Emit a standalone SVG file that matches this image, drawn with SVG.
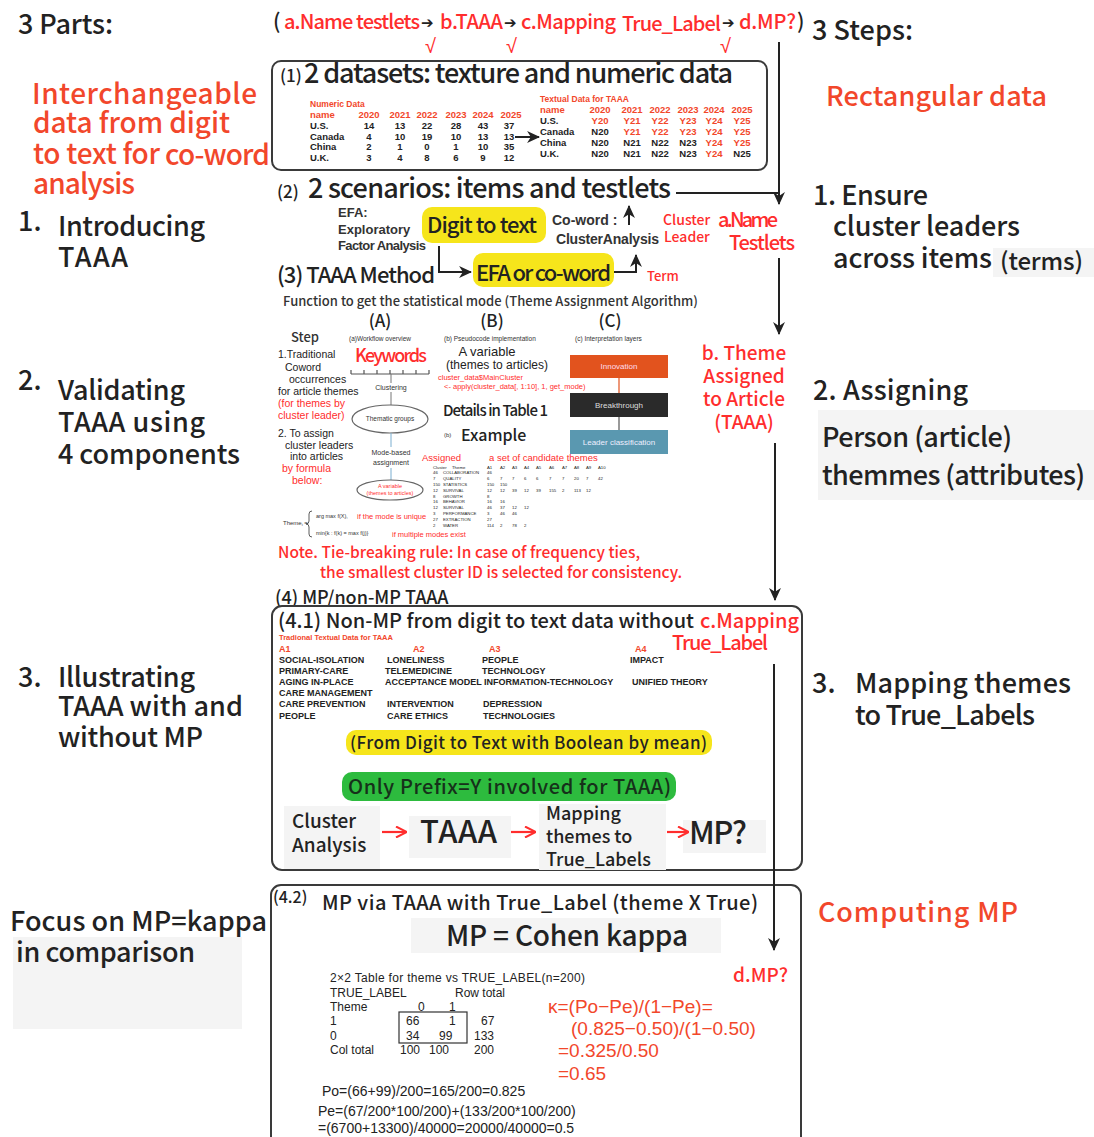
<svg xmlns="http://www.w3.org/2000/svg" width="1094" height="1137" viewBox="0 0 1094 1137">
<defs>
<style>
text{font-family:"Noto Sans CJK TC","Noto Sans",sans-serif;fill:#222;font-weight:500}
.L{font-family:"Liberation Sans",Arial,sans-serif;font-weight:normal}
.LB{font-family:"Liberation Sans",Arial,sans-serif;font-weight:bold}
.r{fill:#ff2d2d}
.o{fill:#f2472b}
.k{fill:#222}
.g{fill:#333}
.big{font-size:27px}
.bg{fill:#f4f4f4}
.box{fill:#fff;stroke:#3a3a3a;stroke-width:2}
.ln{fill:none;stroke:#222;stroke-width:2}
.lnr{fill:none;stroke:#ff2d2d;stroke-width:2.2}
.tb{font-size:9.5px}
.tw{font-size:9px;fill:#333}
.ti{font-size:4.3px;fill:#333}
.arr{font-family:"DejaVu Sans",sans-serif;font-size:15px;font-weight:bold;fill:#222}
.c{text-anchor:middle}
</style>
<marker id="ah" viewBox="0 0 12 12" refX="11" refY="6" markerWidth="13" markerHeight="13" markerUnits="userSpaceOnUse" orient="auto"><path d="M0,0.5 L12,6 L0,11.5 L3.5,6 z" fill="#222"/></marker>
<marker id="ahr" viewBox="0 0 12 12" refX="11" refY="6" markerWidth="12" markerHeight="12" markerUnits="userSpaceOnUse" orient="auto"><path d="M1,0.5 L12,6 L1,11.5" fill="none" stroke="#ff2d2d" stroke-width="2"/></marker>
</defs>
<rect width="1094" height="1137" fill="#fff"/>

<!-- left column -->
<g id="parts-title"><text x="18" y="34" class="big" textLength="95">3 Parts:</text></g>
<g id="parts-note">
<text x="32" y="104" class="o" font-size="28" textLength="225">Interchangeable</text>
<text x="33" y="133" class="o" font-size="28" textLength="197">data from digit</text>
<text x="33" y="164" class="o" font-size="28" textLength="127">to text for</text>
<text x="165" y="165" class="o" font-size="28" textLength="105">co-word</text>
<text x="33" y="194" class="o" font-size="28" textLength="102">analysis</text>
</g>
<g id="part1">
<text x="18" y="231" class="big">1.</text>
<text x="58" y="236" class="big" textLength="147">Introducing</text>
<text x="58" y="267" class="big" textLength="70">TAAA</text>
</g>
<g id="part2">
<text x="18" y="390" class="big">2.</text>
<text x="58" y="400" class="big" textLength="127">Validating</text>
<text x="58" y="432" class="big" textLength="147">TAAA using</text>
<text x="58" y="464" class="big" textLength="182">4 components</text>
</g>
<g id="part3">
<text x="18" y="687" class="big">3.</text>
<text x="58" y="687" class="big" textLength="137">Illustrating</text>
<text x="58" y="716" class="big" textLength="185">TAAA with and</text>
<text x="58" y="747" class="big" textLength="145">without MP</text>
</g>
<g id="focus">
<rect x="13" y="937" width="229" height="92" class="bg"/>
<text x="10" y="931" class="big" textLength="257">Focus on MP=kappa</text>
<text x="16" y="962" class="big" textLength="179">in comparison</text>
</g>

<!-- right column -->
<g id="steps-title"><text x="812" y="40" class="big" textLength="101">3 Steps:</text></g>
<g id="rect-data"><text x="826" y="106" class="o" font-size="27" textLength="221">Rectangular data</text></g>
<g id="step1">
<rect x="993" y="248" width="101" height="29" class="bg"/>
<text x="813" y="205" class="big" textLength="115">1. Ensure</text>
<text x="833" y="236" class="big" textLength="187">cluster leaders</text>
<text x="833" y="268" class="big" textLength="159">across items</text>
<text x="1000" y="270" font-size="24" textLength="83">(terms)</text>
</g>
<g id="step2">
<rect x="818" y="410" width="276" height="90" class="bg"/>
<text x="813" y="400" class="big" textLength="155">2. Assigning</text>
<text x="822" y="447" class="big" textLength="190">Person (article)</text>
<text x="822" y="485" class="big" textLength="263">themmes (attributes)</text>
</g>
<g id="step3">
<text x="812" y="693" class="big">3.</text>
<text x="855" y="693" class="big" textLength="216">Mapping themes</text>
<text x="855" y="725" class="big" textLength="180">to True_Labels</text>
</g>
<g id="computing"><text x="818" y="922" class="o" font-size="27" textLength="200">Computing MP</text></g>

<!-- header -->
<g id="header" font-size="20">
<text x="273" y="29" class="k" font-size="21">(</text>
<text x="284" y="29" class="r" textLength="136">a.Name testlets</text>
<text x="421" y="28" class="arr">➔</text>
<text x="440" y="29" class="r" textLength="63">b.TAAA</text>
<text x="504" y="28" class="arr">➔</text>
<text x="521" y="29" class="r" textLength="95">c.Mapping</text>
<text x="622" y="31" class="r" textLength="99">True_Label</text>
<text x="722" y="28" class="arr">➔</text>
<text x="739" y="29" class="r" textLength="57">d.MP?</text>
<text x="797" y="29" class="k" font-size="21">)</text>
<text x="425" y="53" class="r L" font-size="20">√</text>
<text x="506" y="53" class="r L" font-size="20">√</text>
<text x="720" y="53" class="r L" font-size="20">√</text>
</g>

<!-- box 1 -->
<g id="box1">
<rect x="272" y="61" width="495" height="109" rx="9" class="box"/>
<text x="280" y="82" font-size="17">(1)</text>
<text x="304" y="83" class="big" textLength="429">2 datasets: texture and numeric data</text>
<g class="tb LB">
<text x="310" y="107" class="o LB" font-size="8.5">Numeric Data</text>
<text x="310" y="118" class="o LB">name</text>
<text y="118" class="o LB c"><tspan x="369">2020</tspan><tspan x="400">2021</tspan><tspan x="427">2022</tspan><tspan x="456">2023</tspan><tspan x="483">2024</tspan><tspan x="511">2025</tspan></text>
<text x="310" y="129" class="LB">U.S.</text><text x="310" y="139.5" class="LB">Canada</text><text x="310" y="150" class="LB">China</text><text x="310" y="160.5" class="LB">U.K.</text>
<text y="129" class="LB c"><tspan x="369">14</tspan><tspan x="400">13</tspan><tspan x="427">22</tspan><tspan x="456">28</tspan><tspan x="483">43</tspan><tspan x="509">37</tspan></text>
<text y="139.5" class="LB c"><tspan x="369">4</tspan><tspan x="400">10</tspan><tspan x="427">19</tspan><tspan x="456">10</tspan><tspan x="483">13</tspan><tspan x="509">13</tspan></text>
<text y="150" class="LB c"><tspan x="369">2</tspan><tspan x="400">1</tspan><tspan x="427">0</tspan><tspan x="456">1</tspan><tspan x="483">10</tspan><tspan x="509">35</tspan></text>
<text y="160.5" class="LB c"><tspan x="369">3</tspan><tspan x="400">4</tspan><tspan x="427">8</tspan><tspan x="456">6</tspan><tspan x="483">9</tspan><tspan x="509">12</tspan></text>
<text x="540" y="102" class="o LB" font-size="8.5">Textual Data for TAAA</text>
<text x="540" y="112.5" class="o LB">name</text>
<text y="112.5" class="o LB c"><tspan x="600">2020</tspan><tspan x="632">2021</tspan><tspan x="660">2022</tspan><tspan x="688">2023</tspan><tspan x="714">2024</tspan><tspan x="742">2025</tspan></text>
<text x="540" y="123.5" class="LB">U.S.</text><text x="540" y="134.5" class="LB">Canada</text><text x="540" y="145.5" class="LB">China</text><text x="540" y="157" class="LB">U.K.</text>
<text y="123.5" class="LB c o"><tspan x="600">Y20</tspan><tspan x="632">Y21</tspan><tspan x="660">Y22</tspan><tspan x="688">Y23</tspan><tspan x="714">Y24</tspan><tspan x="742">Y25</tspan></text>
<text y="134.5" class="LB c"><tspan x="600">N20</tspan><tspan x="632" class="o">Y21</tspan><tspan x="660" class="o">Y22</tspan><tspan x="688" class="o">Y23</tspan><tspan x="714" class="o">Y24</tspan><tspan x="742" class="o">Y25</tspan></text>
<text y="145.5" class="LB c"><tspan x="600">N20</tspan><tspan x="632">N21</tspan><tspan x="660">N22</tspan><tspan x="688">N23</tspan><tspan x="714" class="o">Y24</tspan><tspan x="742" class="o">Y25</tspan></text>
<text y="157" class="LB c"><tspan x="600">N20</tspan><tspan x="632">N21</tspan><tspan x="660">N22</tspan><tspan x="688">N23</tspan><tspan x="714" class="o">Y24</tspan><tspan x="742">N25</tspan></text>
</g>
</g>

<!-- scenarios -->
<g id="scenarios">
<text x="277" y="198" font-size="17">(2)</text>
<text x="308" y="198" class="big" textLength="363">2 scenarios: items and testlets</text>
</g>
<g id="efa-label" font-size="13">
<text x="338" y="217" class="g LB">EFA:</text>
<text x="338" y="234" class="g LB">Exploratory</text>
<text x="338" y="250" class="g LB" textLength="88">Factor Analysis</text>
</g>
<g id="digit-to-text">
<rect x="422" y="207" width="124" height="36" rx="10" fill="#f6e51b"/>
<text x="427" y="233" font-size="22" textLength="110">Digit to text</text>
</g>
<g id="coword-label" font-size="14">
<text x="552" y="225" class="g LB">Co-word :</text>
<text x="556" y="244" class="g LB" textLength="103">ClusterAnalysis</text>
</g>
<g id="cluster-leader" font-size="14">
<text x="663" y="225" class="r">Cluster</text>
<text x="664" y="242" class="r">Leader</text>
</g>
<g id="step-a">
<text x="718" y="227" class="r" font-size="20" textLength="60">a.Name</text>
<text x="729" y="250" class="r" font-size="20" textLength="66">Testlets</text>
</g>
<g id="taaa-method"><text x="277" y="283" font-size="22" textLength="158">(3) TAAA Method</text></g>
<g id="efa-coword">
<rect x="473" y="253" width="141" height="34" rx="10" fill="#f6e51b"/>
<text x="476" y="281" font-size="22" textLength="135">EFA or co-word</text>
</g>
<g id="term"><text x="647" y="281" class="r" font-size="13">Term</text></g>

<!-- function -->
<g id="function">
<text x="283" y="306" font-size="13" font-weight="bold" class="g" textLength="415">Function to get the statistical mode (Theme Assignment Algorithm)</text>
<text x="380" y="327" font-size="17" class="c">(A)</text>
<text x="492" y="327" font-size="17" class="c">(B)</text>
<text x="610" y="327" font-size="17" class="c">(C)</text>
<text x="291" y="342" font-size="13" font-weight="bold" class="g">Step</text>
<text x="349" y="341" font-size="6.5" class="g L">(a)Workflow overview</text>
<text x="444" y="341" font-size="6.5" class="g L">(b) Pseudocode implementation</text>
<text x="575" y="341" font-size="6.5" class="g L">(c) Interpretation layers</text>
</g>
<g id="step1-text" font-size="10.5">
<text x="278" y="358" class="L">1.Traditional</text>
<text x="285" y="371" class="L">Coword</text>
<text x="289" y="383" class="L">occurrences</text>
<text x="278" y="395" class="L">for article themes</text>
<text x="278" y="407" class="L r">(for themes by</text>
<text x="278" y="419" class="L r">cluster leader)</text>
</g>
<g id="step2-text" font-size="10.5">
<text x="278" y="437" class="L">2. To assign</text>
<text x="285" y="449" class="L">cluster leaders</text>
<text x="290" y="460" class="L">into articles</text>
<text x="282" y="472" class="L r">by formula</text>
<text x="292" y="484" class="L r">below:</text>
</g>
<g id="workflow">
<text x="355" y="362" class="r" font-size="18" textLength="72">Keywords</text>
<path d="M351,374 H429 M351,374 v-4 M364,374 v-4 M377,374 v-4 M390,374 v-4 M403,374 v-4 M416,374 v-4 M429,374 v-4" fill="none" stroke="#555" stroke-width="1.2"/>
<path d="M391,374 V383 M391,392 V405" fill="none" stroke="#777" stroke-width="1"/>
<text x="391" y="390" font-size="7" class="c g L">Clustering</text>
<ellipse cx="390" cy="419" rx="38" ry="14" fill="#fff" stroke="#666" stroke-width="1.2"/>
<text x="390" y="421" font-size="6.5" class="c g L">Thematic groups</text>
<path d="M391,433 V447 M391,468 V480" fill="none" stroke="#7aaed0" stroke-width="1"/>
<text x="391" y="455" font-size="7" class="c g L">Mode-based</text>
<text x="391" y="465" font-size="7" class="c g L">assignment</text>
<ellipse cx="390" cy="490" rx="33" ry="10" fill="#fff" stroke="#666" stroke-width="1.2"/>
<text x="390" y="488" font-size="5.5" class="c r L">A variable</text>
<text x="390" y="495" font-size="5.5" class="c r L">(themes to articles)</text>
</g>
<g id="formula">
<text x="283" y="525" font-size="6" class="g L">Theme<tspan font-size="4" dy="1">i</tspan><tspan dy="-1"> =</tspan></text>
<path d="M312,511 q-3,0 -3,3 v7 q0,3 -3,3 q3,0 3,3 v7 q0,3 3,3" fill="none" stroke="#333" stroke-width="0.8"/>
<text x="316" y="518" font-size="5.5" class="g L">arg max f(X),</text>
<text x="357" y="519" font-size="7.5" class="r L">if the mode is unique</text>
<text x="316" y="535" font-size="5.5" class="g L">min{k : f(k) = max f(j)}</text>
<text x="392" y="537" font-size="7.5" class="r L">if multiple modes exist</text>
</g>
<g id="pseudocode">
<text x="487" y="356" font-size="13" class="c L">A variable</text>
<text x="497" y="369" font-size="12" class="c L">(themes to articles)</text>
<text x="438" y="380" font-size="7.5" class="r L">cluster_data$MainCluster</text>
<text x="444" y="389" font-size="7.5" class="r L">&lt;- apply(cluster_data[, 1:10], 1, get_mode)</text>
<text x="443" y="416" font-size="15" textLength="105">Details in Table 1</text>
<text x="444" y="437" font-size="6" class="g L">(b)</text>
<text x="461" y="441" font-size="16">Example</text>
</g>
<g id="example-table">
<text x="422" y="461" font-size="9.5" class="r L">Assigned</text>
<text x="489" y="461" font-size="9.5" class="r L">a set of candidate themes</text>
<g class="ti L">
<text y="468.5" class="L"><tspan x="433">Cluster</tspan><tspan x="452">Theme</tspan><tspan x="487">A1</tspan><tspan x="500">A2</tspan><tspan x="512">A3</tspan><tspan x="524">A4</tspan><tspan x="536">A5</tspan><tspan x="549">A6</tspan><tspan x="562">A7</tspan><tspan x="574">A8</tspan><tspan x="586">A9</tspan><tspan x="598">A10</tspan></text>
<text y="474.3" class="L"><tspan x="433">46</tspan><tspan x="443">COLLABORATION</tspan><tspan x="487">46</tspan></text>
<text y="480.1" class="L"><tspan x="433">7</tspan><tspan x="443">QUALITY</tspan><tspan x="487">6</tspan><tspan x="500">7</tspan><tspan x="512">7</tspan><tspan x="524">6</tspan><tspan x="536">6</tspan><tspan x="549">7</tspan><tspan x="562">7</tspan><tspan x="574">20</tspan><tspan x="586">7</tspan><tspan x="598">42</tspan></text>
<text y="485.9" class="L"><tspan x="433">150</tspan><tspan x="443">STATISTICS</tspan><tspan x="487">150</tspan><tspan x="500">150</tspan></text>
<text y="491.7" class="L"><tspan x="433">12</tspan><tspan x="443">SURVIVAL</tspan><tspan x="487">12</tspan><tspan x="500">12</tspan><tspan x="512">39</tspan><tspan x="524">12</tspan><tspan x="536">39</tspan><tspan x="549">155</tspan><tspan x="562">2</tspan><tspan x="574">113</tspan><tspan x="586">12</tspan></text>
<text y="497.5" class="L"><tspan x="433">8</tspan><tspan x="443">GROWTH</tspan><tspan x="487">8</tspan></text>
<text y="503.3" class="L"><tspan x="433">16</tspan><tspan x="443">BEHAVIOR</tspan><tspan x="487">16</tspan><tspan x="500">16</tspan></text>
<text y="509.1" class="L"><tspan x="433">12</tspan><tspan x="443">SURVIVAL</tspan><tspan x="487">46</tspan><tspan x="500">37</tspan><tspan x="512">12</tspan><tspan x="524">12</tspan></text>
<text y="514.9" class="L"><tspan x="433">3</tspan><tspan x="443">PERFORMANCE</tspan><tspan x="487">3</tspan><tspan x="500">46</tspan><tspan x="512">46</tspan></text>
<text y="520.7" class="L"><tspan x="433">27</tspan><tspan x="443">EXTRACTION</tspan><tspan x="487">27</tspan></text>
<text y="526.5" class="L"><tspan x="433">2</tspan><tspan x="443">WATER</tspan><tspan x="487">114</tspan><tspan x="500">2</tspan><tspan x="512">78</tspan><tspan x="524">2</tspan></text>
</g>
</g>
<g id="layers">
<path d="M619,378 V393" stroke="#e2531e" stroke-width="1.2"/>
<path d="M619,417 V430" stroke="#555" stroke-width="1.2"/>
<rect x="570" y="355" width="98" height="23" fill="#e2531e"/>
<text x="619" y="369" font-size="8" class="c L" style="fill:#fde">Innovation</text>
<rect x="570" y="393" width="98" height="24" fill="#2a2a2a"/>
<text x="619" y="408" font-size="8" class="c L" style="fill:#ddd">Breakthrough</text>
<rect x="570" y="430" width="98" height="24" fill="#5a98b0"/>
<text x="619" y="445" font-size="8" class="c L" style="fill:#eef">Leader classification</text>
</g>
<g id="step-b" font-size="19" class="c">
<text x="744" y="360" class="r">b. Theme</text>
<text x="744" y="383" class="r">Assigned</text>
<text x="744" y="406" class="r">to Article</text>
<text x="744" y="429" class="r">(TAAA)</text>
</g>
<g id="note" font-size="15.5">
<text x="278" y="558" class="r" textLength="362">Note. Tie-breaking rule: In case of frequency ties,</text>
<text x="320" y="578" class="r" textLength="362">the smallest cluster ID is selected for consistency.</text>
</g>

<!-- box 4.1 -->
<g id="mp-title"><text x="275" y="604" font-size="18">(4) MP/non-MP TAAA</text></g>
<g id="box41">
<rect x="272" y="606" width="530" height="264" rx="10" class="box"/>
<text x="278" y="628" font-size="20" textLength="416">(4.1) Non-MP from digit to text data without</text>
<text x="700" y="628" class="r" font-size="20" textLength="99">c.Mapping</text>
<text x="672" y="650" class="r" font-size="20" textLength="96">True_Label</text>
<text x="279" y="640" font-size="7.5" class="o LB">Tradional Textual Data for TAAA</text>
<g class="tw LB">
<text y="651.5" class="LB o"><tspan x="279">A1</tspan><tspan x="413">A2</tspan><tspan x="489">A3</tspan><tspan x="635">A4</tspan></text>
<text y="662.5" class="LB"><tspan x="279">SOCIAL-ISOLATION</tspan><tspan x="387">LONELINESS</tspan><tspan x="482">PEOPLE</tspan><tspan x="630">IMPACT</tspan></text>
<text y="673.5" class="LB"><tspan x="279">PRIMARY-CARE</tspan><tspan x="385">TELEMEDICINE</tspan><tspan x="482">TECHNOLOGY</tspan></text>
<text y="684.5" class="LB"><tspan x="279">AGING IN-PLACE</tspan><tspan x="385">ACCEPTANCE MODEL</tspan><tspan x="484">INFORMATION-TECHNOLOGY</tspan><tspan x="632">UNIFIED THEORY</tspan></text>
<text y="695.5" class="LB"><tspan x="279">CARE MANAGEMENT</tspan></text>
<text y="707" class="LB"><tspan x="279">CARE PREVENTION</tspan><tspan x="387">INTERVENTION</tspan><tspan x="483">DEPRESSION</tspan></text>
<text y="718.5" class="LB"><tspan x="279">PEOPLE</tspan><tspan x="387">CARE ETHICS</tspan><tspan x="483">TECHNOLOGIES</tspan></text>
</g>
</g>
<g id="boolean-pill">
<rect x="346" y="730" width="366" height="25" rx="10" fill="#f6e51b"/>
<text x="350" y="749" font-size="17" textLength="357">(From Digit to Text with Boolean by mean)</text>
</g>
<g id="prefix-pill">
<rect x="342" y="772" width="334" height="29" rx="10" fill="#2dbb3e"/>
<text x="348" y="794" font-size="20" style="fill:#16301a" textLength="323">Only Prefix=Y involved for TAAA)</text>
</g>
<g id="cluster-analysis">
<rect x="284" y="806" width="96" height="63" class="bg"/>
<text x="292" y="828" font-size="19">Cluster</text>
<text x="292" y="852" font-size="19">Analysis</text>
</g>
<g id="taaa-node">
<rect x="409" y="816" width="102" height="42" class="bg"/>
<text x="420" y="843" font-size="31" textLength="77">TAAA</text>
</g>
<g id="mapping-node">
<rect x="539" y="804" width="127" height="66" class="bg"/>
<text x="546" y="820" font-size="18">Mapping</text>
<text x="546" y="843" font-size="18">themes to</text>
<text x="546" y="866" font-size="18">True_Labels</text>
</g>
<g id="mp-node">
<rect x="683" y="820" width="83" height="33" class="bg"/>
<text x="689" y="844" font-size="31" textLength="58">MP?</text>
</g>

<!-- box 4.2 -->
<g id="box42">
<rect x="271" y="885" width="530" height="270" rx="10" class="box"/>
<text x="273" y="903" font-size="16">(4.2)</text>
<text x="322" y="910" font-size="20" textLength="436">MP via TAAA with True_Label (theme X True)</text>
</g>
<g id="cohen">
<rect x="411" y="918" width="310" height="35" class="bg"/>
<text x="446" y="946" font-size="28" textLength="242">MP = Cohen kappa</text>
</g>
<g id="step-d"><text x="733" y="982" class="r" font-size="19">d.MP?</text></g>
<g id="table2x2" font-size="12">
<text x="330" y="982" class="L" textLength="255">2×2 Table for theme vs TRUE_LABEL(n=200)</text>
<text y="996.5" class="L"><tspan x="330">TRUE_LABEL</tspan><tspan x="455">Row total</tspan></text>
<text y="1010.5" class="L"><tspan x="330">Theme</tspan><tspan x="418">0</tspan><tspan x="449">1</tspan></text>
<text y="1025" class="L"><tspan x="330">1</tspan><tspan x="406">66</tspan><tspan x="449">1</tspan><tspan x="481">67</tspan></text>
<text y="1039.5" class="L"><tspan x="330">0</tspan><tspan x="406">34</tspan><tspan x="439">99</tspan><tspan x="474">133</tspan></text>
<text y="1054" class="L"><tspan x="330">Col total</tspan><tspan x="400">100</tspan><tspan x="429">100</tspan><tspan x="474">200</tspan></text>
<rect x="399" y="1012" width="68" height="31" fill="none" stroke="#333" stroke-width="1.2"/>
</g>
<g id="kappa" font-size="19">
<text x="548" y="1013" class="o L">κ=(Po−Pe)/(1−Pe)=</text>
<text x="571" y="1035" class="o L">(0.825−0.50)/(1−0.50)</text>
<text x="558" y="1057" class="o L">=0.325/0.50</text>
<text x="558" y="1080" class="o L">=0.65</text>
</g>
<g id="po-pe" font-size="14">
<text x="322" y="1096" class="L">Po=(66+99)/200=165/200=0.825</text>
<text x="318" y="1116" class="L">Pe=(67/200*100/200)+(133/200*100/200)</text>
<text x="318" y="1133" class="L">=(6700+13300)/40000=20000/40000=0.5</text>
</g>

<!-- connectors -->
<g id="connectors">
<path d="M779,42 V204" class="ln" marker-end="url(#ah)"/>
<path d="M676,193 H779" class="ln"/>
<path d="M779,258 V334" class="ln" marker-end="url(#ah)"/>
<path d="M775,443 V600" class="ln" marker-end="url(#ah)"/>
<path d="M774,664 V950" class="ln" marker-end="url(#ah)"/>
<path d="M515,137 H539" class="ln" marker-end="url(#ah)"/>
<path d="M439,246 V272 H471" class="ln" marker-end="url(#ah)"/>
<path d="M614,272 H636 V255" class="ln" marker-end="url(#ah)"/>
<path d="M629,225 V206" class="ln" marker-end="url(#ah)"/>
<path d="M382,832 H406" class="lnr" marker-end="url(#ahr)"/>
<path d="M511,832 H535" class="lnr" marker-end="url(#ahr)"/>
<path d="M667,832 H688" class="lnr" marker-end="url(#ahr)"/>
</g>
</svg>
